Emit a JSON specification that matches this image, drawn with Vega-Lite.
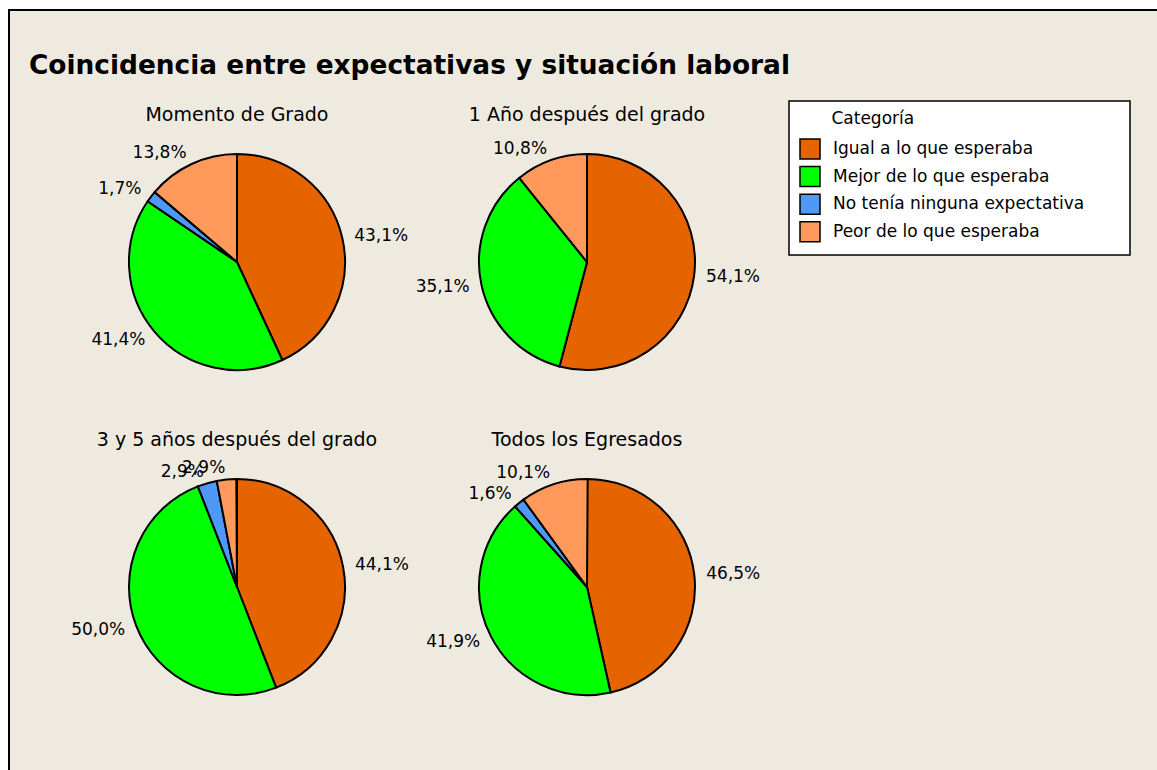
{
  "$schema": "https://vega.github.io/schema/vega-lite/v6.json",
  "autosize": "none",
  "width": 1150,
  "height": 762,
  "padding": {"left": 9, "top": 10, "right": -2, "bottom": -2},
  "background": "white",
  "title": {
    "text": "Coincidencia entre expectativas y situación laboral",
    "anchor": "start",
    "frame": "group",
    "orient": "top",
    "offset": -90,
    "baseline": "alphabetic",
    "dx": 20,
    "fontSize": 26.4,
    "fontWeight": "bold",
    "color": "black"
  },
  "data": {
    "values": [
      {"grupo": "Momento de Grado", "categoria": "Igual a lo que esperaba", "proporcion": 0.431},
      {"grupo": "Momento de Grado", "categoria": "Mejor de lo que esperaba", "proporcion": 0.414},
      {"grupo": "Momento de Grado", "categoria": "No tenía ninguna expectativa", "proporcion": 0.017},
      {"grupo": "Momento de Grado", "categoria": "Peor de lo que esperaba", "proporcion": 0.138},
      {"grupo": "1 Año después del grado", "categoria": "Igual a lo que esperaba", "proporcion": 0.541},
      {"grupo": "1 Año después del grado", "categoria": "Mejor de lo que esperaba", "proporcion": 0.351},
      {"grupo": "1 Año después del grado", "categoria": "Peor de lo que esperaba", "proporcion": 0.108},
      {"grupo": "3 y 5 años después del grado", "categoria": "Igual a lo que esperaba", "proporcion": 0.441},
      {"grupo": "3 y 5 años después del grado", "categoria": "Mejor de lo que esperaba", "proporcion": 0.500},
      {"grupo": "3 y 5 años después del grado", "categoria": "No tenía ninguna expectativa", "proporcion": 0.029},
      {"grupo": "3 y 5 años después del grado", "categoria": "Peor de lo que esperaba", "proporcion": 0.029},
      {"grupo": "Todos los Egresados", "categoria": "Igual a lo que esperaba", "proporcion": 0.465},
      {"grupo": "Todos los Egresados", "categoria": "Mejor de lo que esperaba", "proporcion": 0.419},
      {"grupo": "Todos los Egresados", "categoria": "No tenía ninguna expectativa", "proporcion": 0.016},
      {"grupo": "Todos los Egresados", "categoria": "Peor de lo que esperaba", "proporcion": 0.101}
    ]
  },
  "transform": [
    {"stack": "proporcion", "groupby": ["grupo"], "sort": [{"field": "categoria", "order": "ascending"}], "as": ["t0", "t1"]},
    {"calculate": "(datum.t0 + datum.t1) / 2", "as": "tm"},
    {"calculate": "datum.grupo === '1 Año después del grado' || datum.grupo === 'Todos los Egresados' ? 1 : 0", "as": "columna"},
    {"calculate": "datum.grupo === '3 y 5 años después del grado' || datum.grupo === 'Todos los Egresados' ? 1 : 0", "as": "fila"}
  ],
  "encoding": {
    "x": {"field": "columna", "type": "quantitative", "scale": {"domain": [-0.6514, 2.6343], "zero": false, "nice": false}, "axis": null},
    "y": {"field": "fila", "type": "quantitative", "scale": {"domain": [-0.7754, 1.5692], "zero": false, "nice": false, "reverse": true}, "axis": null}
  },
  "layer": [
    {
      "mark": {"type": "arc", "radius": 108, "stroke": "black", "strokeWidth": 2},
      "encoding": {
        "theta": {"field": "t0", "type": "quantitative", "stack": null, "scale": {"domain": [0, 1]}},
        "theta2": {"field": "t1"},
        "color": {
          "field": "categoria",
          "type": "nominal",
          "scale": {
            "domain": ["Igual a lo que esperaba", "Mejor de lo que esperaba", "No tenía ninguna expectativa", "Peor de lo que esperaba"],
            "range": ["#E56400", "#00FF00", "#4D99F5", "#FF9A5C"]
          },
          "legend": {
            "title": "\u200d\u00a0\u00a0\u00a0\u00a0\u00a0\u00a0Categoría\u00a0\u00a0\u00a0\u00a0\u00a0\u00a0\u00a0\u00a0\u00a0\u00a0\u00a0\u00a0\u00a0\u00a0\u00a0\u00a0\u00a0\u00a0\u00a0\u00a0\u00a0\u00a0\u00a0\u00a0\u00a0\u00a0\u00a0\u00a0\u00a0\u00a0\u00a0\u00a0\u00a0\u00a0\u00a0\u00a0\u00a0\u00a0\u200d",
            "orient": "none",
            "legendX": 780,
            "legendY": 91,
            "symbolType": "square",
            "symbolSize": 400,
            "symbolStrokeColor": "black",
            "symbolStrokeWidth": 1.5,
            "labelFontSize": 17,
            "labelLimit": 400,
            "labelOffset": 12,
            "labelColor": "black",
            "titleFontSize": 17,
            "titleFontWeight": "normal",
            "titleColor": "black",
            "titleLimit": 600,
            "titlePadding": 10,
            "rowPadding": 1.6,
            "padding": 10,
            "fillColor": "white",
            "strokeColor": "black"
          }
        }
      }
    },
    {
      "transform": [{"filter": "datum.tm < 0.5"}],
      "mark": {"type": "text", "radius": 120, "fontSize": 17, "color": "black", "align": "left", "baseline": "middle"},
      "encoding": {
        "theta": {"field": "tm", "type": "quantitative", "stack": null, "scale": {"domain": [0, 1]}},
        "text": {"field": "proporcion", "type": "quantitative", "format": ".1%"}
      }
    },
    {
      "transform": [{"filter": "datum.tm >= 0.5"}],
      "mark": {"type": "text", "radius": 120, "fontSize": 17, "color": "black", "align": "right", "baseline": "middle"},
      "encoding": {
        "theta": {"field": "tm", "type": "quantitative", "stack": null, "scale": {"domain": [0, 1]}},
        "text": {"field": "proporcion", "type": "quantitative", "format": ".1%"}
      }
    },
    {
      "transform": [{"filter": "datum.categoria === 'Igual a lo que esperaba'"}],
      "mark": {"type": "text", "dy": -147, "fontSize": 19, "color": "black", "align": "center", "baseline": "middle"},
      "encoding": {"text": {"field": "grupo", "type": "nominal"}}
    }
  ],
  "config": {
    "font": "DejaVu Sans",
    "view": {"fill": "#EFEAE0", "stroke": "black", "strokeWidth": 2},
    "locale": {"number": {"decimal": ",", "thousands": ".", "grouping": [3], "currency": ["", " €"]}},
    "legend": {"strokeWidth": 1.5}
  }
}
